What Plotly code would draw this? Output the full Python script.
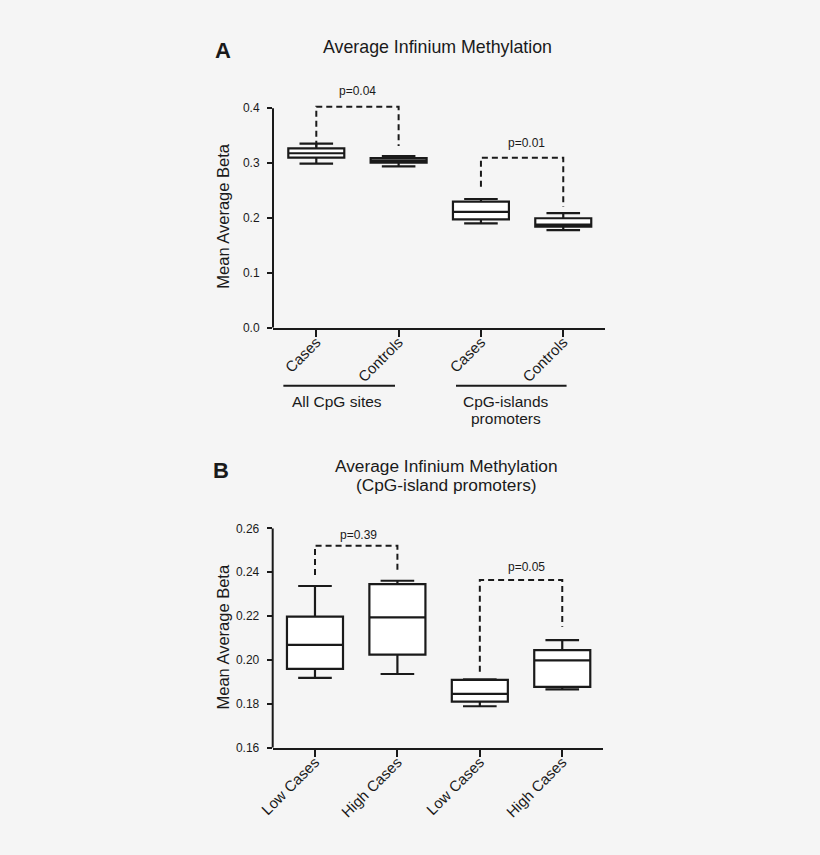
import plotly.graph_objects as go

# ---------------- data ----------------
# Panel A
a_cats = ["Cases", "Controls", "Cases", "Controls"]
a_low = [0.299, 0.294, 0.190, 0.178]
a_q1 = [0.310, 0.301, 0.1976, 0.184]
a_med = [0.318, 0.3045, 0.211, 0.188]
a_q3 = [0.327, 0.309, 0.2297, 0.1995]
a_high = [0.3355, 0.313, 0.2346, 0.209]
a_yticks = [0.0, 0.1, 0.2, 0.3, 0.4]
a_pvals = ["p=0.04", "p=0.01"]
a_br_top = [0.403, 0.310]
a_br_left = [0.330, 0.257]
a_br_right = [0.331, 0.2206]
a_groups = ["All CpG sites", "CpG-islands promoters"]

# Panel B
b_cats = ["Low Cases", "High Cases", "Low Cases", "High Cases"]
b_low = [0.1918, 0.1936, 0.1789, 0.1866]
b_q1 = [0.1959, 0.2024, 0.181, 0.1877]
b_med = [0.2069, 0.2194, 0.1845, 0.1998]
b_q3 = [0.2197, 0.2346, 0.1909, 0.2045]
b_high = [0.2337, 0.2361, 0.1912, 0.209]
b_yticks = [0.16, 0.18, 0.20, 0.22, 0.24, 0.26]
b_pvals = ["p=0.39", "p=0.05"]
b_br_top = [0.2521, 0.2364]
b_br_left = [0.2387, 0.1946]
b_br_right = [0.241, 0.2151]

# ---------------- style ----------------
INK = "#1a1a1a"
BG = "#f5f5f5"
FONT = "Liberation Sans, Arial, sans-serif"
W, H = 820, 855

fig = go.Figure()
pos = [0, 1, 2, 3]


def add_boxes(xa, ya, low, q1, med, q3, high):
    for i in range(4):
        fig.add_trace(go.Box(
            x=[pos[i]], lowerfence=[low[i]], q1=[q1[i]], median=[med[i]],
            q3=[q3[i]], upperfence=[high[i]],
            width=0.68, whiskerwidth=0.6,
            fillcolor="white", line=dict(color=INK, width=2.2),
            boxpoints=False, showlegend=False, hoverinfo="skip",
            xaxis=xa, yaxis=ya))


def add_brackets(xa, ya, tops, lefts, rights):
    pairs = [(0, 1), (2, 3)]
    for k, (l, r) in enumerate(pairs):
        fig.add_trace(go.Scatter(
            x=[pos[l], pos[l], pos[r], pos[r]],
            y=[lefts[k], tops[k], tops[k], rights[k]],
            mode="lines", line=dict(color=INK, width=2, dash="6px,4px"),
            showlegend=False, hoverinfo="skip", xaxis=xa, yaxis=ya))


add_boxes("x", "y", a_low, a_q1, a_med, a_q3, a_high)
add_brackets("x", "y", a_br_top, a_br_left, a_br_right)
add_boxes("x2", "y2", b_low, b_q1, b_med, b_q3, b_high)
add_brackets("x2", "y2", b_br_top, b_br_left, b_br_right)


def px_x(p):
    return p / W


def px_y(p):
    return 1 - p / H


xaxis_common = dict(
    showline=True, linecolor=INK, linewidth=2, ticks="outside", ticklen=7,
    tickwidth=2, tickcolor=INK, showgrid=False, zeroline=False,
    tickangle=-45, tickfont=dict(size=15, color=INK, family=FONT),
    ticklabelstandoff=-9,
    tickvals=pos, fixedrange=True, automargin=False,
)
yaxis_common = dict(
    showline=False, ticks="outside", ticklen=5, tickwidth=2, tickcolor=INK,
    showgrid=False, zeroline=False, ticklabelstandoff=5,
    tickfont=dict(size=12, color=INK, family=FONT), fixedrange=True,
    automargin=False,
)

fig.update_layout(
    width=W, height=H,
    margin=dict(l=0, r=0, t=0, b=0, pad=0, autoexpand=False),
    paper_bgcolor=BG, plot_bgcolor=BG, showlegend=False,
    font=dict(family=FONT, color=INK),
    xaxis=dict(xaxis_common, domain=[px_x(273), px_x(605)],
               range=[-0.526, 3.507], ticktext=a_cats, anchor="y"),
    yaxis=dict(yaxis_common, domain=[px_y(327.7), px_y(97.3)],
               range=[0, 0.42], tickvals=a_yticks,
               ticktext=[f"{v:.1f}" for v in a_yticks], anchor="x"),
    xaxis2=dict(xaxis_common, domain=[px_x(272.7), px_x(603.3)],
                range=[-0.513, 3.498], ticktext=b_cats, anchor="y2"),
    yaxis2=dict(yaxis_common, domain=[px_y(747.7), px_y(528.3)],
                range=[0.16, 0.26], tickvals=b_yticks,
                ticktext=[f"{v:.2f}" for v in b_yticks], anchor="x2"),
)

shapes = [
    # y axis lines (stop at top tick)
    dict(type="line", xref="x domain", yref="y", x0=0, x1=0,
         y0=a_yticks[0], y1=a_yticks[-1], line=dict(color=INK, width=2)),
    dict(type="line", xref="x2 domain", yref="y2", x0=0, x1=0,
         y0=b_yticks[0], y1=b_yticks[-1], line=dict(color=INK, width=2)),
    # group underlines in panel A
    dict(type="line", xref="x", yref="paper", x0=-0.40, x1=0.956,
         y0=px_y(385.7), y1=px_y(385.7), line=dict(color=INK, width=2)),
    dict(type="line", xref="x", yref="paper", x0=1.697, x1=3.04,
         y0=px_y(385.7), y1=px_y(385.7), line=dict(color=INK, width=2)),
]
fig.update_layout(shapes=shapes)

ann = []


def A(text, x, y, size, xref="paper", yref="paper", bold=False, angle=0):
    ann.append(dict(text=f"<b>{text}</b>" if bold else text, x=x, y=y,
                    xref=xref, yref=yref, showarrow=False,
                    xanchor="center", yanchor="middle", textangle=angle,
                    font=dict(size=size, color=INK, family=FONT)))


# Panel A texts
A("A", px_x(223), px_y(50), 22, bold=True)
A("Average Infinium Methylation", px_x(437), px_y(46.7), 17.8)
A("Mean Average Beta", px_x(223), px_y(216.7), 16.5, angle=-90)
A(a_pvals[0], 0.5, px_y(90.7), 12, xref="x")
A(a_pvals[1], 2.55, px_y(143.3), 12, xref="x")
A(a_groups[0], 0.25, px_y(401.7), 15.5, xref="x")
A("CpG-islands", 2.30, px_y(401.7), 15.5, xref="x")
A("promoters", 2.30, px_y(418.3), 15.5, xref="x")

# Panel B texts
A("B", px_x(220.7), px_y(470.7), 22, bold=True)
A("Average Infinium Methylation", px_x(446.7), px_y(466.0), 17.3)
A("(CpG-island promoters)", px_x(446.7), px_y(484.8), 17.3)
A("Mean Average Beta", px_x(222), px_y(637.5), 16.5, angle=-90)
A(b_pvals[0], 0.525, px_y(535), 12, xref="x2")
A(b_pvals[1], 2.57, px_y(567.3), 12, xref="x2")

fig.update_layout(annotations=ann)

fig.write_html(
    "out.html",
    config={"displayModeBar": False},
    post_script="document.body.style.margin='0';document.body.style.overflow='hidden';",
)
